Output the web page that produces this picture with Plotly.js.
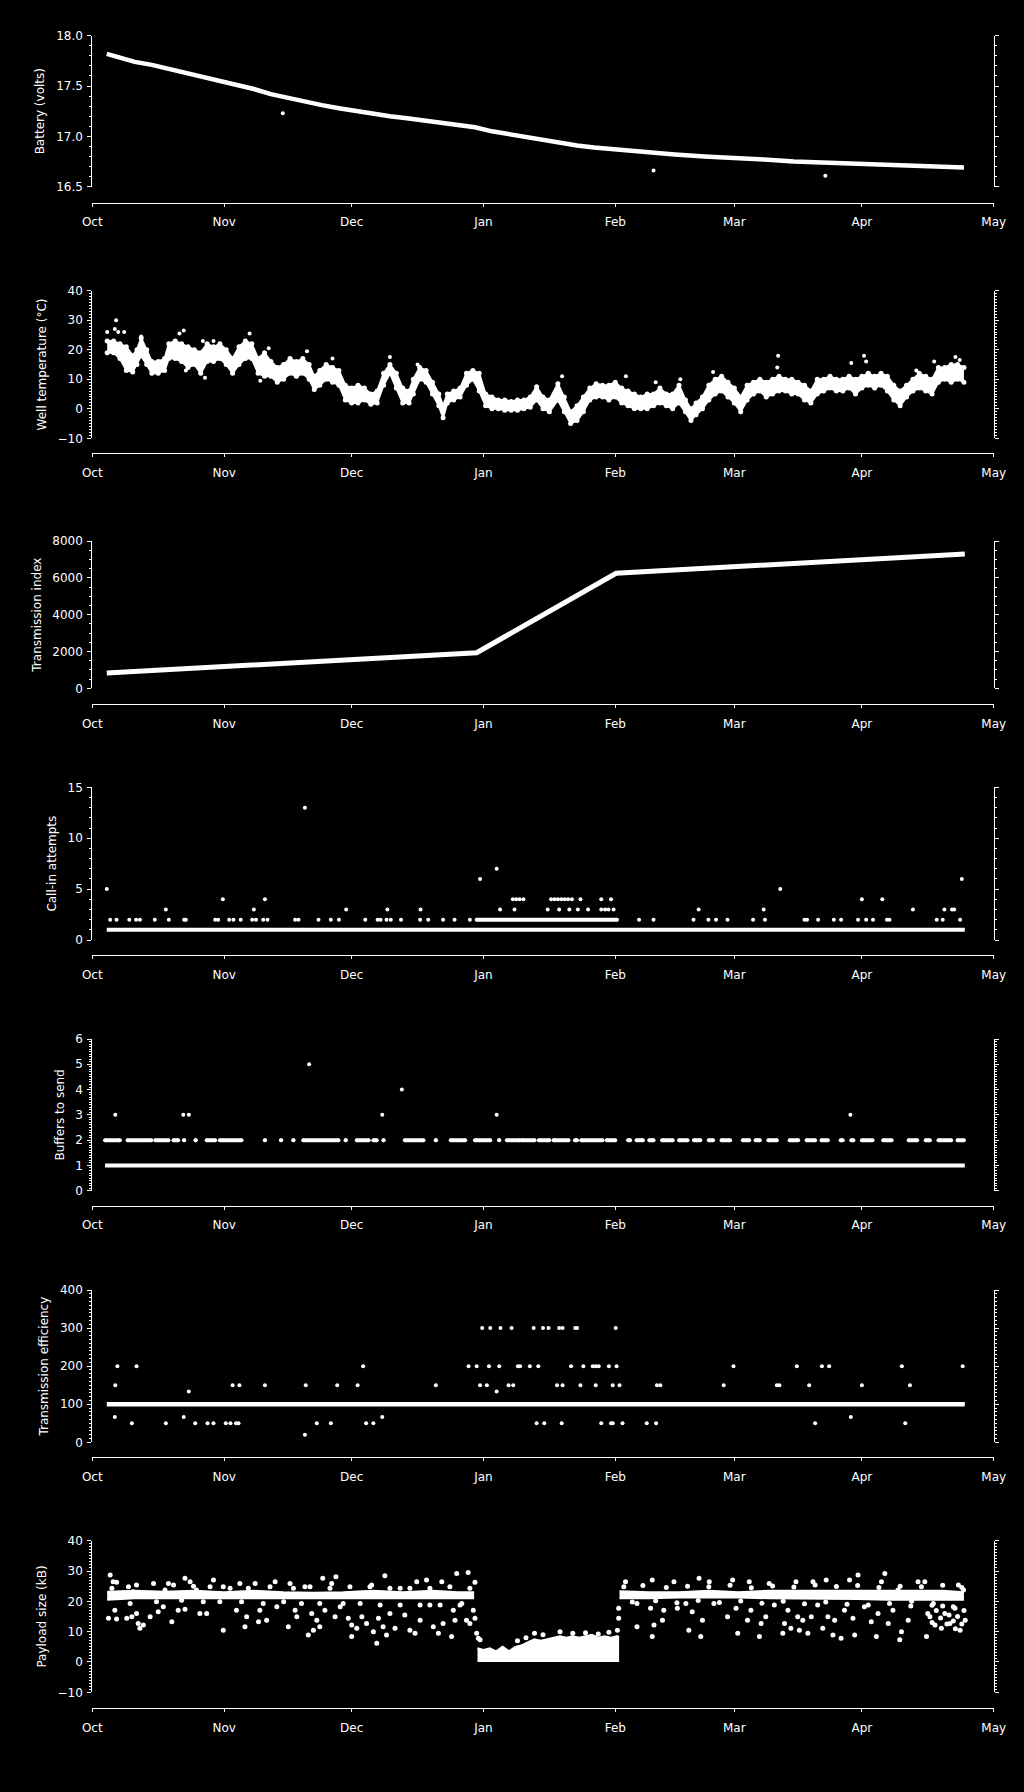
<!DOCTYPE html>
<html><head><meta charset="utf-8">
<script src="https://cdn.plot.ly/plotly-3.0.1.min.js"></script>
<style>html,body{margin:0;padding:0;background:#000;}#chart{width:1024px;height:1792px;}</style>
</head><body><div id="chart"></div>
<script>
// ---- tick labels (month starts, days after 1 Oct) ----
const monthDays = [0, 31, 61, 92, 123, 151, 181, 212];
const monthLabels = ['Oct', 'Nov', 'Dec', 'Jan', 'Feb', 'Mar', 'Apr', 'May'];

// ---- Battery (volts) ----
const batDay = [3.4, 6, 10, 14, 18, 22, 26, 31, 35, 38, 42, 46, 50, 54, 58, 62, 66, 70, 74, 78, 82, 86, 90, 94, 98, 102, 106, 110, 114, 118, 123, 130, 137, 144, 151, 158, 165, 172, 179, 186, 193, 200, 205];
const batVal = [17.82, 17.79, 17.74, 17.71, 17.67, 17.64, 17.60, 17.54, 17.50, 17.47, 17.42, 17.38, 17.35, 17.31, 17.28, 17.25, 17.22, 17.20, 17.18, 17.16, 17.13, 17.11, 17.09, 17.05, 17.02, 16.99, 16.96, 16.94, 16.91, 16.89, 16.87, 16.85, 16.82, 16.80, 16.79, 16.77, 16.75, 16.74, 16.73, 16.72, 16.70, 16.695, 16.69];
const batOutDay = [44.8, 132, 172.4];
const batOutVal = [17.23, 16.66, 16.61];

// ---- Well temperature (degC): band low / high, and stray readings ----
const tempDay = [3.5,5,6.5,8,9.5,10.5,11.5,12.8,14,15.5,
  17,18,19.5,21,22.5,24,25.5,27,28.5,30,
  31.5,33,34.5,36,37.5,39,40.5,42,43.5,45,
  46.5,48,49.5,51,52.2,53.5,55,56.5,58,59.5,
  61,62.5,64,65.5,67,68.5,70,71.5,73,74.5,
  75.5,77,78.5,80,81.5,82.5,83.5,85,86.5,88,
  89.5,91,92.5,94,95.5,97,98.5,100,101.5,103,
  104.5,106,107.5,109.5,111,112.5,114,115.5,117,118.5,
  120,121.5,123,124.5,126,127.5,129,130.5,132,133.5,
  135,136.5,138,139.5,140.8,142,143.5,145,146.5,148,
  149.5,151,152.5,154,155.5,157,158.5,160,161.5,163,
  164.5,166,167.5,169,170.5,172,173.5,175,176.5,178,
  179.5,181,182.5,184,185.5,187,188.5,190,191.5,193,
  194.5,196,197.5,199,200.5,202,203.5,205];
const tempLo = [19,19,17,13,12.5,15,18,15,12,12,
  13,17,17,16,14,15,12,16,16,17,
  15,12,15,17,17,12,11,11,9,10,
  12,11,12,10,6.5,8,10,9,8,3,
  2,2,3,1.5,2,8,12,7,2,2,
  5,10,9,5,1,-3,2,3,4,8,
  10,6,1,0,0,-0.5,-0.5,-0.5,0,0.5,
  3,0,-1,3,-1,-5,-4,-1,3,4,
  4,3,4,2,1,0,0,0,1,2,
  1,0,2,-1,-4,-2,0,3,5,6,
  4,2,-1,3,5,6,4,5,6,6,
  5,5,3,2,5,6,7,6,6,7,
  5,7,8,7,8,6,3,1,4,6,
  7,6,5,9,10,9,10,9];
const tempHi = [23,23,22,21,18,20,24,20,16,16,
  17,22,23,22,21,20,19,22,21,22,
  20,17,21,23,22,17,19,16,14,15,
  17,16,17,15,11,13,15,14,13,8,
  7,8,7,5,6,12,15,12,7,6,
  10,14,13,9,5,1,5,6,7,12,
  13,12,5,4,3,3,2.5,3,3,4,
  7.5,4,3,8.5,4,-1,1,4,7,8.5,
  8,8,9,7,6,5,4,5,5,7,
  5,5,8,3,0,2,4,8,10,11,
  9,7,4,8,9,10,9,10,11,10,
  10,9,8,6,10,10,11,10,10,11,
  10,11,12,11,12,11,8,6,8,10,
  12,11,10,14,14,15,15,14];
const tempOutDay = [3.5,5.3,5.6,6.1,7.5,11.5,20.5,21.5,22,26.5,26,28.5,37,39.5,41.5,50.5,56.5,70,76.5,110.5,125.5,132.5,138.3,146,161.3,161.1,178.5,181.5,182,193.8,198,203,204,203.5];
const tempOutVal = [26,27,30,26,26,24.5,25.5,26.5,13,10.5,23,23,25.5,9.5,20.5,19.5,17,17.5,15,11,11,9,10,12.5,18,14,15.5,18,16,13,16,17.5,16.5,13];

// ---- Transmission index ----
const idxDay = [3.4, 90.4, 123.2, 205.2];
const idxVal = [830, 1930, 6250, 7300];

// ---- Call-in attempts ----
const callBaseDay = [3.4, 205.2];       // continuous run of value 1
const callBaseVal = 1;
const call2Day = [4.2,5.7,8.7,10.3,11.2,14.7,18.0,21.6,22.0,28.9,29.6,32.2,33.2,34.9,37.6,38.5,40.2,41.2,47.7,48.5,53.2,56.1,58.0,64.2,67.1,67.8,69.2,70.2,72.6,77.1,79.0,82.5,85.2,88.8,128.6,132,141.4,144.9,146.7,149.4,155.4,158.2,167.5,168.1,170.7,174.4,176.1,180.1,182,183.6,186.9,187.5,198.6,200,204.1];
const call2RunStart = [90.4];
const call2RunEnd = [123.4];
const call3Day = [17.3,38.0,59.7,69.4,77.2,95.9,99.3,107.1,109.8,112.2,114.2,116.6,119.7,120.6,121.4,122.6,142.6,157.9,193,200.4,202.2,202.7];
const call4Day = [30.7,40.6,98.9,99.7,100.5,101.4,107.9,108.7,109.5,110.3,111.1,111.9,112.8,114.8,119.7,122,181,185.8];
const call5Day = [3.4,161.8];
const call6Day = [91.2,204.5];
const call7Day = [95.1];
const call13Day = [50.0];

// ---- Buffers to send ----
const bufBaseDay = [3.0, 205.2];
const bufBaseVal = 1;
const buf2RunStart = [3.0,8.3,14.8,19.1,21.6,24.3,26.9,30.0,40.6,44.4,47.3,49.6,59.6,62.2,66.1,68.5,73.5,80.8,84.3,90.0,95.7,97.5,101,105,108.5,113.5,115,121,126,128,131,134,138,141.5,145,148,153,156,159,164,168,171.5,176,178.5,181,186,192,196,199,203.5];
const buf2RunEnd   = [6.5,13.9,17.9,20.2,21.6,24.3,28.9,35.1,40.6,44.4,47.3,57.9,59.6,65.0,66.9,68.5,77.9,80.8,87.7,93.6,95.7,100.6,104,107.5,112,114,120,123,126.5,129.5,132,136.5,140,143,146,150,154.5,157,161,166,170,173,176.5,179,183.5,188,194,197,202,205];
const buf3Day = [5.4,21.4,22.7,68.2,95.1,178.3];
const buf4Day = [72.8];
const buf5Day = [51.0];

// ---- Transmission efficiency ----
const effBaseDay = [3.4, 205.2];
const effBaseVal = 100;
const eff300Day = [91.7,93.6,96.0,98.6,103.8,106.0,107.3,109.8,110.6,113.6,114.0,123.1];
const eff200Day = [5.9,10.4,63.7,88.5,90.4,93.3,95.7,100.1,100.6,102.9,104.9,112.6,115.5,117.7,118.4,119.1,121.5,123.3,150.8,165.7,171.6,173.3,190.4,204.7];
const eff150Day = [5.4,33.0,34.6,40.6,50.2,57.6,62.4,80.8,91.2,92.8,97.9,99.0,109.3,110.6,114.8,118.4,122.4,124.0,132.8,133.6,148.5,161.0,161.6,168.6,181.0,192.3];
const eff133Day = [22.7,95.1];
const eff67Day = [5.3,21.5,68.2,178.4];
const eff50Day = [9.3,17.3,24.2,27.1,28.5,31.4,32.5,33.8,34.4,52.8,56.1,64.4,66.1,104.5,106.3,110.4,119.7,122,122.4,124.7,130.4,132.6,170,191.2];
const eff20Day = [50.0];

// ---- Payload size (kB) ----
const payBandDay1 = [3.5,10,17,24,31,38,45,52,59,66,73,80,86,89.8];
const payLo1 = [20.5,21,21,21,20.8,21,21,21,21,20.8,21,20.8,21,21];
const payHi1 = [23.2,23.5,23.2,23.5,23,23.5,23,22.8,23,23.5,23,23.5,23,23];
const payBandDay2 = [124,131,138,145,152,159,166,173,180,187,194,200,205];
const payLo2 = [21,21,21.3,21.3,21.3,21,21,20.8,20.8,20.5,20.5,20.5,20.5];
const payHi2 = [23.3,23,23,23.5,23,23.5,23.5,23.5,23.5,23.5,23.5,23.5,23];
const janDay = [90.6,92,93.5,95,96.5,98,99.5,101,102.5,104,105.5,107,108.5,110,111.5,113,114.5,116,117.5,119,120.5,122,123.5,123.9];
const janTop = [4.5,4,4.5,3.5,5,3.5,5,5.5,6.5,7.5,7,7.5,8,8.5,8,8.5,8,8.5,9,8,8.5,8,8.5,8];
const payDay = [4.2,3.8,5.7,5.3,4.9,5.7,8.1,9.3,8.9,10.8, 11.2,12.0,10.4,10.4,13.6,14.4,15.5,16.7,17.9,18.7,
  20.2,21.8,21.8,23.0,23.8,25.3,26.9,28.5,30.8,30.8, 33.9,34.7,35.9,36.3,38.3,39.1,39.4,41.0,43.0,43.4,
  46.1,46.5,47.7,48.1,50.0,50.8,51.6,52.0,52.8,53.5, 54.2,54.7,56.3,57.1,57.3,58.3,60.2,61.0,61.0,62.2,
  63.4,64.5,65.7,66.1,66.9,67.3,68.4,68.8,69.2,70.0, 71.2,72.4,73.5,74.7,75.9,76.3,77.1,78.6,79.4,80.2,
  81.4,82.2,82.5,84.5,84.9,85.3,85.7,86.9,88.0,88.4, 88.8,90.0,90.0,89.6,90.4,91.2,90.8,
  100,102,104,106,110,113,116,119,121.5,123.5,
  125.4,123.8,123.8,128.1,128.1,131.7,131.3,131.7,132.1,134.1, 134.4,136.8,137.6,139.6,140.3,141.1,142.7,143.1,143.5,145.1,
  146.2,149.4,150.6,151.4,151.8,154.1,154.5,154.9,156.9,157.3, 158.4,159.2,160.4,162.4,162.8,163.6,164.3,165.5,165.9,166.3,
  167.1,168.3,169.1,169.5,170.6,171.8,172.6,173.0,174.2,174.6, 176.1,176.9,178.1,178.9,179.3,180.1,181.6,183.2,184.4,184.8,
  185.6,186.4,187.2,188.3,189.5,189.9,190.3,191.9,192.7,194.2, 195.8,196.2,197.0,197.8,198.2,199.0,199.7,200.5,201.7,202.9,
  203.7,204.1,204.9,205.3,196.5,197.5,198.5,199.5,200.0,201.0, 201.5,202.5,203.0,203.5,204.5,205.0];
const payVal = [28.7,14.4,14.2,17.1,26.5,26.3,14.4,14.9,19.3,12.7, 11.1,12.2,16,25.4,14.9,25.9,16.6,18.2,25.9,13.3,
  17.1,27.6,17.4,26.5,25,16,16,27,10.5,24.8, 17.1,25.9,11.6,14.9,25.9,13.3,17.1,13.8,26.5,18.2,
  11.6,25.9,17.1,14.9,24.8,8.9,16,10.5,13.8,11.6, 27.6,17.1,25.9,14.9,28.1,18.2,14.4,8.4,12.2,11.1,
  14.9,12.7,25.4,10,6.2,14.4,11.6,28.4,8.9,16, 11.1,24.3,15.5,10.5,9.5,26.5,13.8,27,18.8,11.6,
  9.5,26.5,12.7,8.4,17.1,13.8,29.2,19.3,13.8,29.5, 12.7,26.3,14.4,17.1,9.5,7.3,7.8,
  7,8,9.5,9,10,9.5,9.6,9.2,9.8,10.5,
  26.5,17.7,14.4,11.6,19.3,27,17.7,8.4,12.2,13.8, 17.1,26.5,17.7,19.3,10.5,16.6,27.6,8.4,13.8,26.5,
  19.3,14.9,27,17.7,9.5,13.8,26.5,17.1,8.4,12.7, 14.9,25.9,18.8,9.5,12.7,17.1,11.1,26.5,14.9,10.5,
  13.8,9.5,14.9,26.5,18.8,11.1,27,14.9,8.9,13.8, 7.8,17.1,27,14.4,8.9,28.7,18.2,13.3,8.4,16,
  26.5,29.2,12.7,17.1,23.7,7.3,10,13.8,20,26.5, 26.5,8.4,14.9,19.3,12.2,21.5,11.1,16,12.7,17.7,
  25.4,10.5,23.7,13.8,16,13,17,14.5,18.5,12.5, 15.5,13.5,11,15,12.5,17];
// readings just around the dense payload band
const payNearDay = [4.6,6.5,8.5,9.6,12.8,15.1,17.1,19.1,21,24.5,26.1,27.7,30,32.4,35.1,36.7,40.2,41.8,45,47.3,49.2,51.2,53.5,55.9,59,60.6,63,65.3,67.7,70,72.4,74.7,77.1,79.4,81.8,84.1,86.5,88.8,
  125,127,129.5,132.5,135,137.5,140,142.5,145,147.5,150,152.5,155,157.5,160,162.5,165,167.5,170,172.5,175,177.5,180,182.5,185,187.5,190,192.5,195,197.5,200,202.5,204.5];
const payNearVal = [24.3,21.5,24.8,23.2,21.5,19.9,23.7,25.4,20.4,23.7,19.9,24.8,19.9,24.3,19.9,24.3,19.3,24.8,19.9,24.3,19.3,24.8,19.3,24.3,19.3,24.8,19.3,24.8,18.8,24.3,18.8,24.3,18.8,24.3,18.8,24.8,18.8,24.3,
  24.8,19.8,25.2,20.2,24.6,19.5,25,20.3,24.8,19.6,25.3,20.1,24.5,19.4,25.1,20,24.7,19.2,25.4,19.8,24.9,19,25.2,18.8,24.6,19.3,25,18.5,24.8,18.7,25.3,18.2,24.6];

// ---------------- drawing ----------------
const W = 1024, H = 1792, X0 = 92.3, X1 = 993.7;
const BASE = Date.UTC(2014, 9, 1);
function d2s(d) { return new Date(BASE + Math.round(d * 86400000)).toISOString().slice(0, 19).replace('T', ' '); }
const font = {family: 'DejaVu Sans, sans-serif', size: 12, color: '#ffffff'};
const panels = [
  {top: 35.7, bot: 186.7, xax: 202.7, range: [16.5, 18], dtick: 0.5, minor: 0.1, fmt: '.1f', title: 'Battery (volts)'},
  {top: 290.7, bot: 438.3, xax: 453.3, range: [-10, 40], dtick: 10, minor: 1, fmt: 'd', title: 'Well temperature (°C)'},
  {top: 541, bot: 688.3, xax: 704.3, range: [0, 8000], dtick: 2000, minor: 500, fmt: 'd', title: 'Transmission index'},
  {top: 787.3, bot: 940, xax: 955.3, range: [0, 15], dtick: 5, minor: 1, fmt: 'd', title: 'Call-in attempts'},
  {top: 1039, bot: 1190.7, xax: 1206, range: [0, 6], dtick: 1, minor: 0.1, fmt: 'd', title: 'Buffers to send'},
  {top: 1290, bot: 1442.3, xax: 1457.3, range: [0, 400], dtick: 100, minor: 10, fmt: 'd', title: 'Transmission efficiency'},
  {top: 1540.7, bot: 1692.3, xax: 1708.3, range: [-10, 40], dtick: 10, minor: 1, fmt: 'd', title: 'Payload size (kB)'}
];
const layout = {width: W, height: H, margin: {l: 0, r: 0, t: 0, b: 0}, paper_bgcolor: '#000', plot_bgcolor: '#000', showlegend: false, hovermode: false, font: font};
panels.forEach((p, i) => {
  const s = i === 0 ? '' : String(i + 1);
  layout['xaxis' + s] = {
    domain: [X0 / W, X1 / W], anchor: 'free', position: 1 - p.xax / H, type: 'date',
    range: [d2s(monthDays[0]), d2s(monthDays[monthDays.length - 1])],
    tickmode: 'array', tickvals: monthDays.map(d2s), ticktext: monthLabels,
    ticks: 'outside', ticklen: 3, tickwidth: 1, tickcolor: '#fff', showline: true, linecolor: '#fff', linewidth: 1,
    showgrid: false, zeroline: false, tickfont: font, ticklabelstandoff: 5, fixedrange: true
  };
  layout['yaxis' + s] = {
    domain: [1 - p.bot / H, 1 - p.top / H], anchor: 'x' + s, range: p.range,
    tickmode: 'linear', tick0: p.range[0], dtick: p.dtick, tickformat: p.fmt,
    ticks: 'outside', ticklen: 4, tickwidth: 1, tickcolor: '#fff', showline: true, linecolor: '#fff', linewidth: 1, mirror: 'ticks',
    minor: {tickmode: 'linear', tick0: p.range[0], dtick: p.minor, ticks: 'outside', ticklen: 2, tickwidth: 1, tickcolor: '#fff', showgrid: false},
    showgrid: false, zeroline: false, tickfont: font, ticklabelstandoff: 2,
    title: {text: p.title, font: font, standoff: 8}, fixedrange: true
  };
});
const traces = [];
function ax(i) { const s = i === 0 ? '' : String(i + 1); return {xaxis: 'x' + s, yaxis: 'y' + s}; }
const dot = {color: '#fff', size: 4, line: {width: 0}};
function pts(i, days, vals, size) {
  traces.push(Object.assign({type: 'scatter', mode: 'markers', x: days.map(d2s),
    y: Array.isArray(vals) ? vals : days.map(() => vals), marker: Object.assign({}, dot, {size: size || 4})}, ax(i)));
}
function line(i, days, vals, w) {
  traces.push(Object.assign({type: 'scatter', mode: 'lines', x: days.map(d2s),
    y: Array.isArray(vals) ? vals : days.map(() => vals), line: {color: '#fff', width: w}}, ax(i)));
}
function runs(i, starts, ends, val, w) {
  const x = [], y = [];
  starts.forEach((s0, k) => { x.push(d2s(s0), d2s(ends[k]), null); y.push(val, val, null); });
  traces.push(Object.assign({type: 'scatter', mode: 'lines+markers', x: x, y: y, connectgaps: false,
    line: {color: '#fff', width: w}, marker: dot}, ax(i)));
}
function band(i, days, lo, hi, mode) {
  const m = mode || 'lines';
  traces.push(Object.assign({type: 'scatter', mode: m, x: days.map(d2s), y: lo, line: {color: '#fff', width: 2}, marker: Object.assign({}, dot, {size: 5})}, ax(i)));
  traces.push(Object.assign({type: 'scatter', mode: m, x: days.map(d2s), y: hi, line: {color: '#fff', width: 2}, marker: Object.assign({}, dot, {size: 5}), fill: 'tonexty', fillcolor: '#fff'}, ax(i)));
}
// 1 battery
line(0, batDay, batVal, 4.5);
pts(0, batOutDay, batOutVal, 4);
// 2 temperature
band(1, tempDay, tempLo, tempHi, 'lines+markers');
pts(1, tempOutDay, tempOutVal, 4);
// 3 transmission index
line(2, idxDay, idxVal, 5);
// 4 call-in attempts
line(3, callBaseDay, callBaseVal, 4);
runs(3, call2RunStart, call2RunEnd, 2, 4);
pts(3, call2Day, 2); pts(3, call3Day, 3); pts(3, call4Day, 4); pts(3, call5Day, 5);
pts(3, call6Day, 6); pts(3, call7Day, 7); pts(3, call13Day, 13);
// 5 buffers
line(4, bufBaseDay, bufBaseVal, 4);
runs(4, buf2RunStart, buf2RunEnd, 2, 4);
pts(4, buf3Day, 3); pts(4, buf4Day, 4); pts(4, buf5Day, 5);
// 6 efficiency
line(5, effBaseDay, effBaseVal, 4.5);
pts(5, eff300Day, 300); pts(5, eff200Day, 200); pts(5, eff150Day, 150); pts(5, eff133Day, 133.3);
pts(5, eff67Day, 66.7); pts(5, eff50Day, 50); pts(5, eff20Day, 20);
// 7 payload
band(6, payBandDay1, payLo1, payHi1);
band(6, payBandDay2, payLo2, payHi2);
traces.push(Object.assign({type: 'scatter', mode: 'lines', x: janDay.map(d2s), y: janTop, line: {color: '#fff', width: 2}, fill: 'tozeroy', fillcolor: '#fff'}, ax(6)));
pts(6, payNearDay, payNearVal, 5);
pts(6, payDay, payVal, 5);

Plotly.newPlot('chart', traces, layout, {staticPlot: true, displayModeBar: false});
</script></body></html>
